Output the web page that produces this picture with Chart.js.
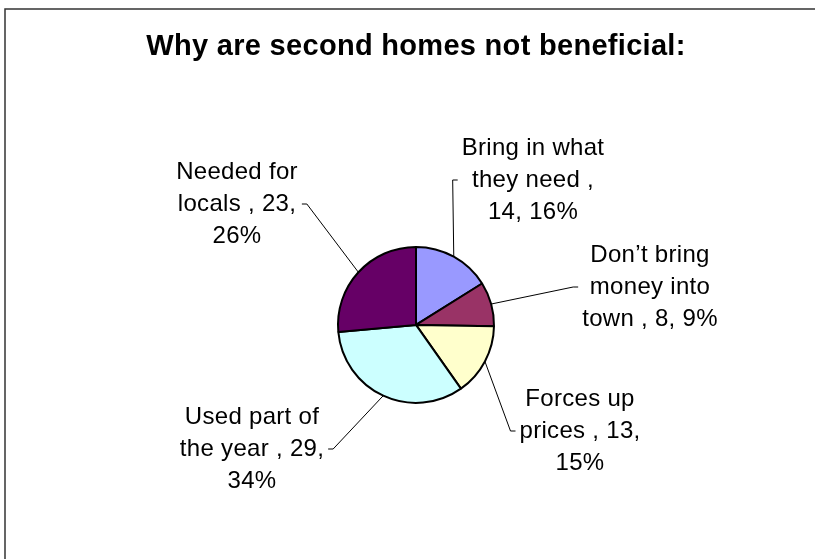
<!DOCTYPE html>
<html>
<head>
<meta charset="utf-8">
<script src="https://cdn.jsdelivr.net/npm/chart.js@4.4.0/dist/chart.umd.min.js"></script>
<style>
  html, body { margin: 0; padding: 0; background: #fff; }
  #wrap { width: 815px; height: 559px; }
</style>
</head>
<body>
<div id="wrap"><canvas id="pie"></canvas></div>
<script>
const categories = ['Bring in what they need', 'Don’t bring money into town', 'Forces up prices', 'Used part of the year', 'Needed for locals'];
const values = [14, 8, 13, 29, 23];
const percents = [16, 9, 15, 34, 26];
const sliceColors = ['#9999FF', '#993366', '#FFFFCC', '#CCFFFF', '#660066'];

function wrapLines(ctx, text, maxW) {
    const words = text.split(' ');
    const lines = [];
    let cur = '';
    words.forEach(w => {
        const test = cur ? cur + ' ' + w : w;
        if (cur && ctx.measureText(test).width > maxW) {
            lines.push(cur);
            cur = w;
        } else {
            cur = test;
        }
    });
    lines.push(cur);
    return lines;
}

// frame of the chart area, cut off at the right and bottom like the original
const frame = {
    id: 'frame',
    beforeDraw(chart) {
        const ctx = chart.ctx;
        ctx.save();
        ctx.strokeStyle = '#333';
        ctx.lineWidth = 1.5;
        ctx.beginPath();
        ctx.moveTo(5, chart.height);
        ctx.lineTo(5, 9);
        ctx.lineTo(chart.width, 9);
        ctx.stroke();
        ctx.restore();
        ctx.letterSpacing = '0.3px'; // used by the title
    }
};

// data labels with leader lines, Excel style
const pieLabels = {
    id: 'pieLabels',
    afterDatasetsDraw(chart, args, opts) {
        const ctx = chart.ctx;
        const arcs = chart.getDatasetMeta(0).data;
        ctx.save();
        ctx.font = '24px "Liberation Sans", Arial, sans-serif';
        ctx.letterSpacing = '0.3px';
        ctx.fillStyle = '#000';
        ctx.strokeStyle = '#000';
        ctx.lineWidth = 1;
        ctx.textAlign = 'center';
        ctx.textBaseline = 'middle';
        arcs.forEach((arc, i) => {
            const text = `${categories[i]} , ${values[i]}, ${percents[i]}%`;
            const lines = wrapLines(ctx, text, opts.wrapWidth);
            const [cx, cy] = opts.spots[i];
            const lh = opts.lineHeight;
            const top = cy - lh * (lines.length - 1) / 2;
            lines.forEach((t, k) => ctx.fillText(t, cx, top + k * lh));

            const {x, y, startAngle, endAngle, outerRadius} = arc.getProps(['x', 'y', 'startAngle', 'endAngle', 'outerRadius'], true);
            const mid = (startAngle + endAngle) / 2;
            const px = x + Math.cos(mid) * outerRadius;
            const py = y + Math.sin(mid) * outerRadius;
            const w = Math.max(...lines.map(t => ctx.measureText(t).width));
            const onRight = cx > x;
            const edge = onRight ? cx - w / 2 : cx + w / 2;
            const dir = onRight ? -1 : 1;
            ctx.beginPath();
            ctx.moveTo(px, py);
            ctx.lineTo(edge + dir * 9, cy);
            ctx.lineTo(edge + dir * 4, cy);
            ctx.stroke();
        });
        ctx.restore();
    }
};

new Chart(document.getElementById('pie').getContext('2d'), {
    type: 'pie',
    data: {
        labels: categories,
        datasets: [{
            data: values,
            backgroundColor: sliceColors,
            borderColor: '#000',
            borderWidth: 2,
            radius: 78
        }]
    },
    options: {
        responsive: true,
        maintainAspectRatio: false,
        animation: false,
        events: [],
        layout: {padding: {left: 17, right: 0, top: 0, bottom: 134}},
        plugins: {
            legend: {display: false},
            tooltip: {enabled: false},
            title: {
                display: true,
                text: 'Why are second homes not beneficial:',
                color: '#000',
                font: {family: '"Liberation Sans", Arial, sans-serif', size: 29, weight: 'bold', lineHeight: 1.2},
                padding: {top: 30, bottom: 160}
            },
            pieLabels: {
                wrapWidth: 155,
                lineHeight: 32,
                spots: [[533, 180], [650, 287], [580, 431], [252, 449], [237, 204]]
            }
        }
    },
    plugins: [frame, pieLabels]
});
</script>
</body>
</html>
